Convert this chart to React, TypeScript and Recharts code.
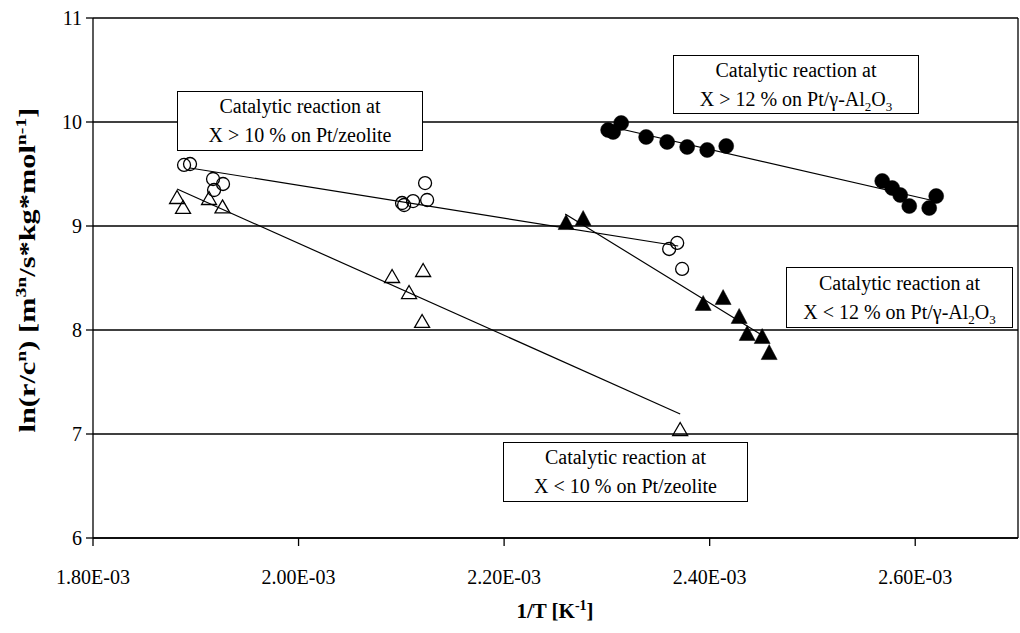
import React from 'react';
import { ScatterChart, Scatter, XAxis, YAxis, CartesianGrid, ReferenceLine } from 'recharts';

const FONT = '"Liberation Serif", "Times New Roman", serif';

// Axis ticks
const xTicks = [1.8e-3, 2.0e-3, 2.2e-3, 2.4e-3, 2.6e-3];
const yTicks = [6, 7, 8, 9, 10, 11];

// Catalytic reaction at X > 10 % on Pt/zeolite (open circles)
const zeoHighX = [1.8886e-3, 1.8944e-3, 1.9168e-3, 1.9265e-3, 1.9178e-3, 2.1007e-3, 2.1027e-3, 2.1114e-3, 2.1231e-3, 2.1251e-3, 2.3606e-3, 2.3684e-3, 2.3732e-3];
const zeoHighY = [9.587, 9.596, 9.452, 9.404, 9.346, 9.221, 9.202, 9.240, 9.413, 9.250, 8.779, 8.837, 8.587];

// Catalytic reaction at X < 10 % on Pt/zeolite (open triangles)
const zeoLowX = [1.8818e-3, 1.8876e-3, 1.9129e-3, 1.926e-3, 2.091e-3, 2.1212e-3, 2.1075e-3, 2.1202e-3, 2.3713e-3];
const zeoLowY = [9.279, 9.183, 9.269, 9.188, 8.519, 8.577, 8.365, 8.087, 7.048];

// Catalytic reaction at X > 12 % on Pt/γ-Al2O3 (filled circles)
const aluHighX = [2.3012e-3, 2.3061e-3, 2.3139e-3, 2.3382e-3, 2.3586e-3, 2.3781e-3, 2.3976e-3, 2.4161e-3, 2.5679e-3, 2.5776e-3, 2.5854e-3, 2.5942e-3, 2.6136e-3, 2.6204e-3];
const aluHighY = [9.923, 9.904, 9.990, 9.856, 9.808, 9.760, 9.731, 9.769, 9.433, 9.365, 9.298, 9.192, 9.173, 9.288];

// Catalytic reaction at X < 12 % on Pt/γ-Al2O3 (filled triangles)
const aluLowX = [2.2603e-3, 2.2769e-3, 2.3937e-3, 2.4131e-3, 2.4287e-3, 2.4365e-3, 2.4511e-3, 2.4579e-3];
const aluLowY = [9.038, 9.077, 8.260, 8.317, 8.135, 7.971, 7.942, 7.788];

// Linear fit lines (end points)
const zeoHighFitX = [1.8944e-3, 2.3694e-3];
const zeoHighFitY = [9.558, 8.808];
const zeoLowFitX = [1.8818e-3, 2.3713e-3];
const zeoLowFitY = [9.356, 7.192];
const aluHighFitX = [2.3051e-3, 2.6146e-3];
const aluHighFitY = [9.952, 9.25];
const aluLowFitX = [2.2594e-3, 2.4491e-3];
const aluLowFitY = [9.115, 7.962];

const pts = (xs: number[], ys: number[]) => xs.map((x, i) => ({ x, y: ys[i] }));

const triPath = (cx: number, cy: number, w: number, h: number) =>
  `M${cx},${cy - h / 2}L${cx + w / 2},${cy + h / 2}L${cx - w / 2},${cy + h / 2}Z`;

const OpenCircle = (p: any) => <circle cx={p.cx} cy={p.cy} r={6.5} fill="none" stroke="#000" strokeWidth={1.3} />;
const FilledCircle = (p: any) => <circle cx={p.cx} cy={p.cy} r={7.5} fill="#000" stroke="#000" strokeWidth={0.5} />;
const OpenTriangle = (p: any) => <path d={triPath(p.cx, p.cy, 15, 13)} fill="none" stroke="#000" strokeWidth={1.3} />;
const FilledTriangle = (p: any) => <path d={triPath(p.cx, p.cy, 16, 15)} fill="#000" stroke="#000" strokeWidth={0.5} />;
const NoShape = () => <g />;

const fmtX = (v: number) => (v * 1000).toFixed(2) + 'E-03';

const YTitle = () => (
  <text transform="translate(35,270) rotate(-90) scale(1.32,1)" textAnchor="middle" fontFamily={FONT} fontWeight="bold" fontSize={23} fill="#000">
    ln(r/c<tspan dy={-9} fontSize={15}>n</tspan>
    <tspan dy={9}>) [m</tspan>
    <tspan dy={-9} fontSize={15}>3n</tspan>
    <tspan dy={9}>/s*kg*mol</tspan>
    <tspan dy={-9} fontSize={15}>n-1</tspan>
    <tspan dy={9}>]</tspan>
  </text>
);

const XTitle = () => (
  <text x={555} y={618} textAnchor="middle" fontFamily={FONT} fontWeight="bold" fontSize={21} fill="#000">
    1/T [K<tspan dy={-8} fontSize={14}>-1</tspan>
    <tspan dy={8}>]</tspan>
  </text>
);

const boxStyle = (left: number, top: number, width: number, height: number): React.CSSProperties => ({
  position: 'absolute',
  left,
  top,
  width,
  height,
  boxSizing: 'border-box',
  border: '1.5px solid #000',
  background: '#fff',
  display: 'flex',
  flexDirection: 'column',
  justifyContent: 'center',
  alignItems: 'center',
  fontFamily: FONT,
  fontSize: 20,
  lineHeight: '29px',
  color: '#000',
  whiteSpace: 'nowrap',
});

const subStyle: React.CSSProperties = { fontSize: 13, verticalAlign: 'sub', lineHeight: 0 };

export default function App() {
  const lineStyle = { stroke: '#000', strokeWidth: 1.2 };
  return (
    <div style={{ position: 'absolute', left: 0, top: 0, width: 1020, height: 633, background: '#fff' }}>
      <ScatterChart width={1020} height={633} margin={{ top: 18, right: 2, left: 0, bottom: 55 }}>
        <CartesianGrid horizontal={true} vertical={false} stroke="#000" strokeWidth={1.3} />
        <XAxis
          type="number"
          dataKey="x"
          domain={[1.8e-3, 2.7e-3]}
          ticks={xTicks}
          interval={0}
          allowDataOverflow
          tickFormatter={fmtX}
          height={40}
          tickSize={8}
          tickMargin={24}
          axisLine={{ stroke: '#000', strokeWidth: 1.3 }}
          tickLine={{ stroke: '#000', strokeWidth: 1.3 }}
          tick={{ fill: '#000', fontFamily: FONT, fontSize: 20 }}
          label={{ content: XTitle }}
        />
        <YAxis
          type="number"
          dataKey="y"
          domain={[6, 11]}
          ticks={yTicks}
          interval={0}
          allowDataOverflow
          width={93}
          tickSize={7}
          tickMargin={4}
          axisLine={{ stroke: '#000', strokeWidth: 1.3 }}
          tickLine={{ stroke: '#000', strokeWidth: 1.3 }}
          tick={{ fill: '#000', fontFamily: FONT, fontSize: 20 }}
          label={{ content: YTitle }}
        />
        <ReferenceLine x={2.7e-3} stroke="#000" strokeWidth={1.3} />
        <Scatter data={pts(zeoHighFitX, zeoHighFitY)} line={lineStyle} shape={NoShape} isAnimationActive={false} />
        <Scatter data={pts(zeoLowFitX, zeoLowFitY)} line={lineStyle} shape={NoShape} isAnimationActive={false} />
        <Scatter data={pts(aluHighFitX, aluHighFitY)} line={lineStyle} shape={NoShape} isAnimationActive={false} />
        <Scatter data={pts(aluLowFitX, aluLowFitY)} line={lineStyle} shape={NoShape} isAnimationActive={false} />
        <Scatter data={pts(zeoHighX, zeoHighY)} shape={OpenCircle} isAnimationActive={false} />
        <Scatter data={pts(zeoLowX, zeoLowY)} shape={OpenTriangle} isAnimationActive={false} />
        <Scatter data={pts(aluHighX, aluHighY)} shape={FilledCircle} isAnimationActive={false} />
        <Scatter data={pts(aluLowX, aluLowY)} shape={FilledTriangle} isAnimationActive={false} />
      </ScatterChart>
      <div style={boxStyle(177, 91, 246, 60)}>
        <div>Catalytic reaction at</div>
        <div>X &gt; 10 % on Pt/zeolite</div>
      </div>
      <div style={boxStyle(673, 55, 246, 59)}>
        <div>Catalytic reaction at</div>
        <div>X &gt; 12 % on Pt/γ-Al<sub style={subStyle}>2</sub>O<sub style={subStyle}>3</sub></div>
      </div>
      <div style={boxStyle(786, 267, 227, 61)}>
        <div>Catalytic reaction at</div>
        <div>X &lt; 12 % on Pt/γ-Al<sub style={subStyle}>2</sub>O<sub style={subStyle}>3</sub></div>
      </div>
      <div style={boxStyle(503, 442, 245, 60)}>
        <div>Catalytic reaction at</div>
        <div>X &lt; 10 % on Pt/zeolite</div>
      </div>
    </div>
  );
}
